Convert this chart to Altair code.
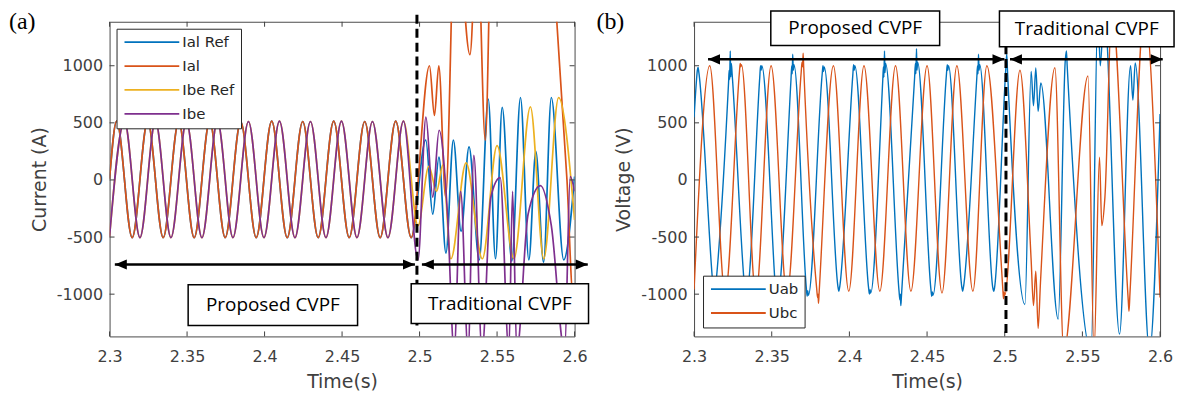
import altair as alt
import pandas as pd

# ================= panel (a): currents =================
# steady-state extrema (reference and measured coincide before 2.5 s)
ial_steady_t = [2.3000, 2.3046, 2.3146, 2.3246, 2.3346, 2.3446, 2.3546, 2.3646, 2.3746, 2.3846, 2.3946,
                2.4046, 2.4146, 2.4246, 2.4346, 2.4446, 2.4546, 2.4646, 2.4746, 2.4846, 2.4946]
ial_steady_v = [10, 515, -505, 515, -505, 512, -506, 515, -505, 512, -505,
                515, -506, 512, -505, 515, -505, 512, -506, 515, -505]
ibe_steady_t = [2.3000, 2.3096, 2.3196, 2.3296, 2.3396, 2.3496, 2.3596, 2.3696, 2.3796, 2.3896,
                2.3996, 2.4096, 2.4196, 2.4296, 2.4396, 2.4496, 2.4596, 2.4696, 2.4796, 2.4896]
ibe_steady_v = [-495, 515, -505, 515, -505, 512, -506, 515, -505, 512,
                -505, 515, -506, 512, -505, 515, -505, 512, -506, 515]

# after the switch to the traditional CVPF
ial_ref_after_t = [2.5040, 2.5085, 2.5125, 2.5170, 2.5218, 2.5268, 2.5319, 2.5385, 2.5443, 2.5490,
                   2.5533, 2.5595, 2.5651, 2.5705, 2.5750, 2.5800, 2.5850, 2.5930, 2.6000]
ial_ref_after_v = [350, -300, 200, -640, 350, -450, 290, -700, 707, -690,
                   635, -710, 722, -700, 250, -720, 722, -700, 30]
ial_after_t = [2.5064, 2.5096, 2.5124, 2.5168, 2.5232, 2.5325, 2.5372, 2.5424, 2.5470, 2.5670,
               2.5880, 2.5951, 2.5990, 2.6000]
ial_after_v = [1000, 565, 1000, -150, 2400, 1098, 2200, 348, 2600, 3500,
               1500, 0, -1000, -950]
ibe_ref_after_t = [2.4990, 2.5060, 2.5110, 2.5150, 2.5202, 2.5300, 2.5405, 2.5500, 2.5609, 2.5715,
                   2.5801, 2.5897, 2.6000]
ibe_ref_after_v = [-400, 120, -100, 130, -690, 150, -690, 300, -690, 640,
                   -690, 720, -350]
ibe_after_t = [2.4990, 2.5041, 2.5085, 2.5126, 2.5180, 2.5223, 2.5265, 2.5313, 2.5350, 2.5403,
               2.5460, 2.5520, 2.5576, 2.5600, 2.5627, 2.5700, 2.5780, 2.5850, 2.5936, 2.5972, 2.6000]
ibe_after_v = [-700, 550, -150, 435, -300, -1500, -100, -1500, 215, -1500,
               -150, 20, -1500, -100, -1500, -300, -50, -400, -1500, 30, -100]

series_a = ["Ial Ref", "Ial", "Ibe Ref", "Ibe"]
colors_a = ["#0072BD", "#D95319", "#EDB120", "#7E2F8E"]

# ================= panel (b): voltages (noisy measured line voltages) =================
uab_t = [2.3000,
         2.3016, 2.3021, 2.3026, 2.3031,
         2.3120, 2.3126, 2.3130, 2.3134, 2.3140,
         2.3222, 2.3226, 2.3229, 2.3233, 2.3236, 2.3240, 2.3245,
         2.3325, 2.3330, 2.3334, 2.3338,
         2.3423, 2.3428, 2.3432, 2.3436,
         2.3524, 2.3529, 2.3533, 2.3537,
         2.3624, 2.3629, 2.3632, 2.3635, 2.3639, 2.3643,
         2.3723, 2.3728, 2.3732, 2.3736,
         2.3825, 2.3830, 2.3834, 2.3838,
         2.3927, 2.3932, 2.3936,
         2.4022, 2.4027, 2.4031, 2.4035,
         2.4124, 2.4129, 2.4133, 2.4137,
         2.4215, 2.4219, 2.4222, 2.4226, 2.4229, 2.4233,
         2.4320, 2.4325, 2.4328, 2.4331, 2.4335,
         2.4420, 2.4425, 2.4428, 2.4432, 2.4435, 2.4439,
         2.4525, 2.4530, 2.4534, 2.4538,
         2.4625, 2.4630, 2.4634, 2.4638,
         2.4724, 2.4729, 2.4733,
         2.4820, 2.4825, 2.4828, 2.4831, 2.4835, 2.4839,
         2.4924, 2.4929, 2.4933,
         2.5008, 2.5013, 2.5017, 2.5130, 2.5170, 2.5185, 2.5200, 2.5215, 2.5232,
         2.5344, 2.5390, 2.5397, 2.5402, 2.5556,
         2.5600, 2.5615, 2.5640, 2.5739, 2.5810, 2.5825, 2.5840, 2.5932, 2.6000]
uab_v = [550,
         880, 960, 985, 940,
         -900, -990, -960, -1000, -920,
         850, 960, 880, 1130, 900, 1020, 930,
         -940, -1010, -960, -1000,
         900, 1000, 960, 1000,
         -960, -1050, -990, -1040,
         880, 1000, 930, 1100, 960, 1010,
         -950, -1018, -970, -1010,
         930, 1000, 950, 990,
         -940, -975, -950,
         920, 1010, 960, 1000,
         -950, -1000, -960, -990,
         880, 990, 900, 1130, 940, 1020,
         -980, -1050, -1000, -1100, -1020,
         900, 1020, 930, 1150, 960, 1030,
         -960, -1018, -980, -1010,
         930, 1010, 960, 1000,
         -940, -975, -950,
         890, 1000, 930, 1100, 960, 1010,
         -950, -975, -955,
         1000, 1100, 980, -1090, 950, 650, 980, 600, 850,
         -1218, 1050, 1130, 1000, -1500,
         1500, 1000, 1500, -1350, 1000, 700, 1025, -1500, 577]
ubc_t = [2.3000, 2.3101, 2.3200,
         2.3293, 2.3297, 2.3301, 2.3305,
         2.3398, 2.3496, 2.3598,
         2.3690, 2.3695, 2.3699, 2.3702, 2.3706,
         2.3790, 2.3795, 2.3798, 2.3801, 2.3805,
         2.3897, 2.3996, 2.4094, 2.4196, 2.4297, 2.4396, 2.4500, 2.4596, 2.4692, 2.4795, 2.4885,
         2.4988, 2.4992, 2.4996, 2.5000,
         2.5098, 2.5170, 2.5185, 2.5200, 2.5215, 2.5230, 2.5323, 2.5380, 2.5536, 2.5575,
         2.5610, 2.5625, 2.5645, 2.5690, 2.5795, 2.5800, 2.5806, 2.5900, 2.6000]
ubc_v = [-960, 1000, -1000,
         960, 1020, 990, 1010,
         -1010, 1000, -1000,
         950, 1030, 990, 1110, 980,
         -960, -1030, -1000, -1080, -990,
         1000, -975, 1000, -975, 1000, -975, 1000, -990, 1000, -975, 1000,
         -960, -1040, -980, -1010,
         960, -700, -1100, -800, -1300, -900, 983, -1500, 910, -1500,
         200, -400, -150, 1500, -1050, -1150, -1000, 1500, -1030]
series_b = ["Uab", "Ubc"]
colors_b = ["#0072BD", "#D95319"]

# axis ticks
x_ticks = [2.3, 2.35, 2.4, 2.45, 2.5, 2.55, 2.6]
y_ticks = [-1000, -500, 0, 500, 1000]

# annotations (data coordinates)
dash_a = {"t": [2.4983], "v": [1446], "v2": [-1274]}
dash_b = {"t": [2.5008], "v": [1180], "v2": [-1370]}
arrows_a = {"t": [2.3034, 2.5015], "t2": [2.4970, 2.6085], "v": [-740, -740]}
arrows_b = {"t": [2.3090, 2.5034], "t2": [2.4998, 2.6017], "v": [1056, 1056]}
boxes_a = {"t": [2.3507, 2.4946], "t2": [2.4600, 2.6090], "v": [-917, -908], "v2": [-1274, -1257],
           "label": ["Proposed CVPF", "Traditional CVPF"]}
boxes_b = {"t": [2.3494, 2.4966], "t2": [2.4581, 2.6090], "v": [1480, 1480], "v2": [1178, 1167],
           "label": ["Proposed CVPF", "Traditional CVPF"]}

W_A, W_B, H = 467, 468, 316
TICK_COLOR = "#404040"
Y_DOMAIN = [-1370, 1385]


def build_df(names, ts, vs):
    frames = [pd.DataFrame({"t": t, "v": v, "series": n}) for n, t, v in zip(names, ts, vs)]
    return pd.concat(frames, ignore_index=True)


df_a = build_df(series_a,
                [ial_steady_t + ial_ref_after_t, ial_steady_t + ial_after_t,
                 ibe_steady_t + ibe_ref_after_t, ibe_steady_t + ibe_after_t],
                [ial_steady_v + ial_ref_after_v, ial_steady_v + ial_after_v,
                 ibe_steady_v + ibe_ref_after_v, ibe_steady_v + ibe_after_v])
df_b = build_df(series_b, [uab_t, ubc_t], [uab_v, ubc_v])

LABEL_FONT = "DejaVu Sans"


def axes(ytitle):
    ax_x = alt.Axis(values=x_ticks, format=".2~f", domain=False, ticks=False, grid=False,
                    labelFont=LABEL_FONT, labelFontSize=16, labelColor=TICK_COLOR, labelPadding=12,
                    labelFlush=False, titleFont=LABEL_FONT, titleFontSize=19, titleFontWeight="normal",
                    titleColor=TICK_COLOR, titlePadding=8)
    ax_y = alt.Axis(values=y_ticks, domain=False, ticks=False, grid=False,
                    labelExpr="datum.value < 0 ? '-' + format(-datum.value, 'd') : format(datum.value, 'd')",
                    labelFont=LABEL_FONT, labelFontSize=16, labelColor=TICK_COLOR, labelPadding=7,
                    titleFont=LABEL_FONT, titleFontSize=19, titleFontWeight="normal",
                    titleColor=TICK_COLOR, titlePadding=7)
    X = alt.X("t:Q", scale=alt.Scale(domain=[2.3, 2.6], nice=False, zero=False), axis=ax_x, title="Time(s)")
    Y = alt.Y("v:Q", scale=alt.Scale(domain=Y_DOMAIN, nice=False, zero=False), axis=ax_y, title=ytitle)
    return X, Y


def panel(df, names, colors, ytitle, legend_orient, legend_offset, dash, arrows, boxes, tag, width,
          line_width):
    X, Y = axes(ytitle)
    legend = alt.Legend(title=None, orient=legend_orient, offset=legend_offset,
                        symbolType="M-1,0H9", symbolSize=121, symbolStrokeWidth=1.8,
                        labelFont=LABEL_FONT, labelFontSize=15, labelColor="#262626",
                        labelOffset=45, rowPadding=8, padding=6,
                        strokeColor="#262626", fillColor="white", cornerRadius=0)
    color = alt.Color("series:N", scale=alt.Scale(domain=names, range=colors), legend=legend)
    layers = []
    for n in names:
        layers.append(
            alt.Chart(df).transform_filter(alt.datum.series == n)
            .mark_line(interpolate="monotone", clip=True, strokeWidth=line_width)
            .encode(x=X, y=Y, color=color)
        )
    # inward tick marks on all four sides
    xt = pd.DataFrame({"t": x_ticks})
    yt = pd.DataFrame({"v": y_ticks})
    layers.append(alt.Chart(xt).mark_rule(color=TICK_COLOR, strokeWidth=1)
                  .encode(x=X, y=alt.value(H), y2=alt.value(H - 5)))
    layers.append(alt.Chart(xt).mark_rule(color=TICK_COLOR, strokeWidth=1)
                  .encode(x=X, y=alt.value(0), y2=alt.value(5)))
    layers.append(alt.Chart(yt).mark_rule(color=TICK_COLOR, strokeWidth=1)
                  .encode(y=Y, x=alt.value(0), x2=alt.value(5)))
    layers.append(alt.Chart(yt).mark_rule(color=TICK_COLOR, strokeWidth=1)
                  .encode(y=Y, x=alt.value(width), x2=alt.value(width - 5)))
    dash_df = pd.DataFrame(dash)
    layers.append(alt.Chart(dash_df).mark_rule(color="black", strokeWidth=3, strokeDash=[9, 5])
                  .encode(x=X, y=Y, y2="v2:Q"))
    ar_df = pd.DataFrame(arrows)
    layers.append(alt.Chart(ar_df).mark_rule(color="black", strokeWidth=2.5)
                  .encode(x=X, x2="t2:Q", y=Y))
    heads_l = pd.DataFrame({"t": arrows["t"], "v": arrows["v"]})
    heads_r = pd.DataFrame({"t": arrows["t2"], "v": arrows["v"]})
    layers.append(alt.Chart(heads_l).mark_point(shape="M0,0L2,-0.85L2,0.85Z", size=144, filled=True,
                                                color="black", opacity=1).encode(x=X, y=Y))
    layers.append(alt.Chart(heads_r).mark_point(shape="M0,0L-2,-0.85L-2,0.85Z", size=144, filled=True,
                                                color="black", opacity=1).encode(x=X, y=Y))
    box_df = pd.DataFrame(boxes)
    layers.append(alt.Chart(box_df).mark_rect(fill="white", stroke="black", strokeWidth=1.5)
                  .encode(x=X, x2="t2:Q", y=Y, y2="v2:Q"))
    lab_df = pd.DataFrame({"t": [(a + b) / 2 for a, b in zip(boxes["t"], boxes["t2"])],
                           "v": [(a + b) / 2 for a, b in zip(boxes["v"], boxes["v2"])],
                           "label": boxes["label"]})
    layers.append(alt.Chart(lab_df).mark_text(font="Open Sans", fontSize=19, color="black",
                                              align="center", baseline="middle")
                  .encode(x=X, y=Y, text="label:N"))
    tag_df = pd.DataFrame({"label": [tag]})
    layers.append(alt.Chart(tag_df).mark_text(font="Liberation Serif", fontSize=24, color="black",
                                              align="left", baseline="middle")
                  .encode(x=alt.value(-101 if tag == "(a)" else -98), y=alt.value(0), text="label:N"))
    return alt.layer(*layers).properties(width=width, height=H)


panel_a = panel(df_a, series_a, colors_a, "Current (A)", "top-left", 7,
                dash_a, arrows_a, boxes_a, "(a)", W_A, 1.7)
panel_b = panel(df_b, series_b, colors_b, "Voltage (V)", "bottom-left", 9,
                dash_b, arrows_b, boxes_b, "(b)", W_B, 1.4)

chart = (
    alt.hconcat(panel_a, panel_b, spacing=120, bounds="flush")
    .resolve_scale(color="independent")
    .properties(padding=0)
    .configure_view(stroke="#4a4a4a", strokeWidth=1)
)

chart.save("out.html", embed_options={"renderer": "svg", "actions": False})
